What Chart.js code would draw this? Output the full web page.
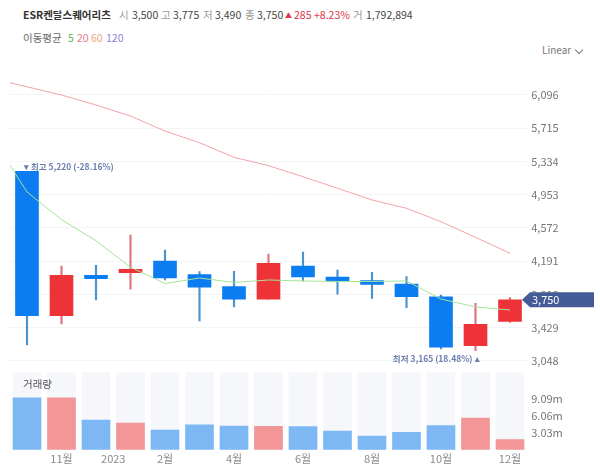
<!DOCTYPE html>
<html>
<head>
<meta charset="utf-8">
<script src="https://cdn.jsdelivr.net/npm/chart.js@4"></script>
<style>
html,body{margin:0;padding:0;background:#fff;width:600px;height:472px;overflow:hidden;font-family:"Noto Sans CJK KR","Noto Sans",sans-serif;}
.t{position:absolute;font-size:10.5px;line-height:14px;white-space:nowrap;color:#444;}
.g{color:#999;}
#priceBox{position:absolute;left:0;top:60px;width:600px;height:307px;}
#volBox{position:absolute;left:0;top:367px;width:600px;height:105px;}
#chev{position:absolute;left:576px;top:47px;width:5px;height:5px;border-right:1px solid #777;border-bottom:1px solid #777;transform:rotate(45deg);}
</style>
</head>
<body>
<div class="t" style="left:23px;top:8px;font-weight:700;color:#333">ESR켄달스퀘어리츠</div>
<div class="t g" style="left:119px;top:8px">시</div><div class="t" style="left:132px;top:8px">3,500</div>
<div class="t g" style="left:161px;top:8px">고</div><div class="t" style="left:173px;top:8px">3,775</div>
<div class="t g" style="left:203px;top:8px">저</div><div class="t" style="left:215px;top:8px">3,490</div>
<div class="t g" style="left:245px;top:8px">종</div><div class="t" style="left:257px;top:8px">3,750</div>
<div class="t" style="left:285px;top:8px;color:#e0354a;font-size:7px">▲</div>
<div class="t" style="left:294px;top:8px;color:#e0354a">285</div>
<div class="t" style="left:314px;top:8px;color:#e0354a">+8.23%</div>
<div class="t g" style="left:353px;top:8px">거</div><div class="t" style="left:366px;top:8px">1,792,894</div>
<div class="t" style="left:23px;top:31px;color:#666">이동평균</div>
<div class="t" style="left:68px;top:31px;color:#5cb85c">5</div>
<div class="t" style="left:77px;top:31px;color:#e8798a">20</div>
<div class="t" style="left:91px;top:31px;color:#e8a87c">60</div>
<div class="t" style="left:106px;top:31px;color:#8f7fe0">120</div>
<div class="t" style="left:542px;top:43px;color:#777;font-size:10px">Linear</div>
<div id="chev"></div>
<div id="priceBox"><canvas id="priceChart"></canvas></div>
<div id="volBox"><canvas id="volChart"></canvas></div>
<div class="t" style="left:23px;top:377px;color:#555">거래량</div>
<script>
// candles, one per month
const opens=[5220,3567,4030,4060,4194,4038,3900,3755,4136,4010,3970,3930,3782,3224,3500];
const closes=[3567,4030,3992,4099,4000,3893,3755,4167,4010,3959,3924,3785,3205,3468,3750];
const highs=[5220,4136,4143,4492,4320,4072,4076,4274,4297,4090,4064,4016,3804,3709,3775];
const lows=[3231,3472,3747,3870,3976,3506,3667,3755,3965,3815,3766,3660,3186,3165,3490];
const volumes=[9.2,9.2,5.28,4.75,3.5,4.4,4.2,4.16,4.1,3.33,2.44,3.1,4.27,5.64,1.79];
const volumeMax=13.7;
// moving averages, first value sits on the left edge of the plot
const ma5=[5294,4985,4667,4426,4122,3936,3999,3948,3976,3965,3959,3959,3965,3758,3667,3632];
const ma20=[6237,6096,5981,5855,5683,5549,5382,5286,5160,5027,4893,4798,4644,4465,4282];
const priceTicks=[3048,3429,3810,4191,4572,4953,5334,5715,6096];
const volTicks=[3.03,6.06,9.09];
const xTickPos=[1,2.5,4,6,8,10,12,14];
const xTickLabels=['11월','2023','2월','4월','6월','8월','10월','12월'];
const lastPrice=3750;

const BLUE='#0b7df0',RED='#ee3338';
const isUp=i=>closes[i]>=opens[i];
const font={family:'"Noto Sans CJK KR","Noto Sans",sans-serif',size:11};
const idx=opens.map((v,i)=>i);

function fmt(v){return v.toLocaleString('en-US');}

// y axis keeps a fixed width and does not eat plot height for its labels
function fitY(s){
  s.width=72.75;
  s.paddingTop=0;
  s.paddingBottom=0;
}

const markers={
  id:'markers',
  afterDraw(c){
    const ctx=c.ctx,x=c.scales.x,y=c.scales.y;
    ctx.save();
    // high / low labels
    ctx.font='700 8.5px "Noto Sans CJK KR"';
    ctx.fillStyle='#6b7db0';
    ctx.textBaseline='middle';
    ctx.textAlign='left';
    ctx.fillText('▾ 최고 5,220 (-28.16%)',x.getPixelForValue(0)-3,y.getPixelForValue(5220)-5);
    ctx.textAlign='right';
    ctx.fillText('최저 3,165 (18.48%) ▴',x.getPixelForValue(13)+4,y.getPixelForValue(3165)+8);
    // current price tag
    const py=y.getPixelForValue(lastPrice);
    ctx.fillStyle='#445b97';
    ctx.beginPath();
    ctx.moveTo(522,py);
    ctx.lineTo(530,py-7.5);
    ctx.lineTo(594,py-7.5);
    ctx.lineTo(594,py+7.5);
    ctx.lineTo(530,py+7.5);
    ctx.closePath();
    ctx.fill();
    ctx.fillStyle='#fff';
    ctx.textAlign='left';
    ctx.font='11px "Noto Sans CJK KR"';
    ctx.fillText(fmt(lastPrice),532,py);
    ctx.restore();
  }
};

new Chart(document.getElementById('priceChart'),{
  type:'bar',
  data:{datasets:[
    {type:'line',data:ma20.map((v,i)=>({x:i==0?-0.5:i,y:v})),borderColor:'#f2a4a8',borderWidth:1,pointRadius:0,tension:0,order:1},
    {type:'line',data:ma5.map((v,i)=>({x:i==0?-0.5:i-1,y:v})),borderColor:'#a6e39a',borderWidth:1,pointRadius:0,tension:0,order:1},
    {data:idx.map(i=>({x:i,y:[opens[i],closes[i]]})),backgroundColor:idx.map(i=>isUp(i)?RED:BLUE),barThickness:23,grouped:false,order:2},
    {data:idx.map(i=>({x:i,y:[lows[i],highs[i]]})),backgroundColor:idx.map(i=>isUp(i)?'#dd7480':'#4b93cf'),barThickness:1.5,grouped:false,order:3}
  ]},
  options:{
    responsive:true,maintainAspectRatio:false,animation:false,
    layout:{autoPadding:false,padding:{left:9.75,right:0,top:0,bottom:0}},
    plugins:{legend:{display:false},tooltip:{enabled:false}},
    scales:{
      x:{type:'linear',offset:false,min:-0.5,max:14.5,display:false},
      y:{
        position:'right',min:2979,max:6497,
        afterBuildTicks(s){s.ticks=priceTicks.map(v=>({value:v}));},
        afterFit:fitY,
        grid:{color:'#f3f4f6',drawTicks:false},
        border:{display:false},
        ticks:{padding:4,color:'#777',font,callback:v=>fmt(v)}
      }
    }
  },
  plugins:[markers]
});

new Chart(document.getElementById('volChart'),{
  type:'bar',
  data:{datasets:[
    {data:idx.map(i=>({x:i,y:volumes[i]})),backgroundColor:idx.map(i=>isUp(i)?'#f29698':'#7db8f5'),barThickness:28,grouped:false,order:1},
    {data:idx.map(i=>({x:i,y:volumeMax})),backgroundColor:'#f6f7fb',barThickness:28,grouped:false,order:2}
  ]},
  options:{
    responsive:true,maintainAspectRatio:false,animation:false,
    layout:{autoPadding:false,padding:{left:9.75,right:0,top:0,bottom:0}},
    plugins:{legend:{display:false},tooltip:{enabled:false}},
    scales:{
      x:{
        type:'linear',offset:false,min:-0.5,max:14.5,
        afterBuildTicks(s){s.ticks=xTickPos.map(v=>({value:v}));},
        afterFit(s){s.height=22.3;s.paddingLeft=0;s.paddingRight=0;},
        grid:{display:false,drawTicks:false},border:{display:false},
        ticks:{color:'#8a8a8a',font,padding:3,maxRotation:0,autoSkip:false,callback:v=>xTickLabels[xTickPos.indexOf(v)]}
      },
      y:{
        position:'right',min:0,max:14.7,
        afterBuildTicks(s){s.ticks=volTicks.map(v=>({value:v}));},
        afterFit:fitY,
        grid:{display:false,drawTicks:false},border:{display:false},
        ticks:{padding:4,color:'#777',font,callback:v=>v.toFixed(2)+'m'}
      }
    }
  }
});
</script>
</body>
</html>
